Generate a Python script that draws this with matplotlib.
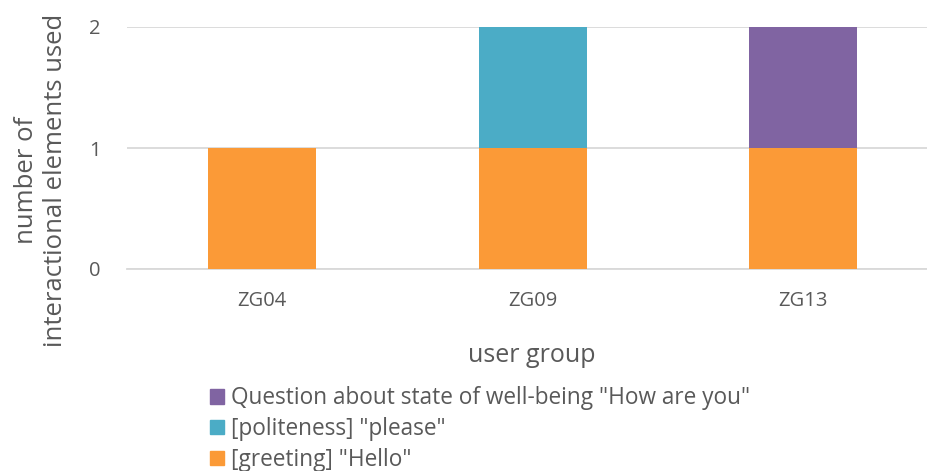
import matplotlib
matplotlib.use("Agg")
import matplotlib.pyplot as plt
from matplotlib.patches import Patch

categories = ["ZG04", "ZG09", "ZG13"]
greeting = [1, 1, 1]
politeness = [0, 1, 0]
question = [0, 0, 1]
series_names = ['[greeting] "Hello"', '[politeness] "please"',
                'Question about state of well-being "How are you"']
colors = ["#FB9A37", "#4BACC6", "#8064A2"]
yticks = [0, 1, 2]

plt.rcParams['font.family'] = ['Open Sans', 'DejaVu Sans']
txt = "#595959"

fig = plt.figure(figsize=(9.27, 4.71), dpi=100)
ax = fig.add_axes([127/927, 1 - 269/471, 1 - 127/927, (269 - 27)/471])

x = list(range(len(categories)))
bottom = [0]*len(categories)
for vals, c in zip([greeting, politeness, question], colors):
    ax.bar(x, vals, width=0.4, bottom=bottom, color=c, zorder=3)
    bottom = [b + v for b, v in zip(bottom, vals)]

ax.set_xlim(-0.5, (927 - 262) / 270.5)
ax.set_ylim(0, 2)
ax.set_yticks(yticks)
ax.set_xticks(x)
ax.set_xticklabels(categories)
ax.yaxis.grid(True, color="#D9D9D9", linewidth=1.3, zorder=0)
ax.set_axisbelow(True)
for s in ["top", "right", "left"]:
    ax.spines[s].set_visible(False)
ax.spines["bottom"].set_color("#D9D9D9")
ax.spines["bottom"].set_linewidth(1.3)
ax.tick_params(axis="both", length=0, labelsize=14.5, colors=txt)
ax.tick_params(axis="x", pad=16)
ax.tick_params(axis="y", pad=19)
for lbl in ax.get_yticklabels() + ax.get_xticklabels():
    lbl.set_color(txt)

fig.text(41/927, 1 - 180/471, "number of\ninteractional elements used",
         rotation=90, ha="center", va="center", fontsize=18.5, color=txt,
         linespacing=1.2)
fig.text(532/927, 1 - 355/471, "user group", ha="center", va="center",
         fontsize=18, color=txt)

handles = [Patch(color=c) for c in colors][::-1]
labels = series_names[::-1]
leg = fig.legend(handles, labels, loc="upper left",
                 bbox_to_anchor=(199/927, 1 - 375/471), frameon=False,
                 fontsize=16.3, handlelength=0.6, handleheight=0.6,
                 handletextpad=0.3, labelspacing=0.3, borderpad=0,
                 labelcolor=txt)

fig.savefig("out.png", dpi=100)
